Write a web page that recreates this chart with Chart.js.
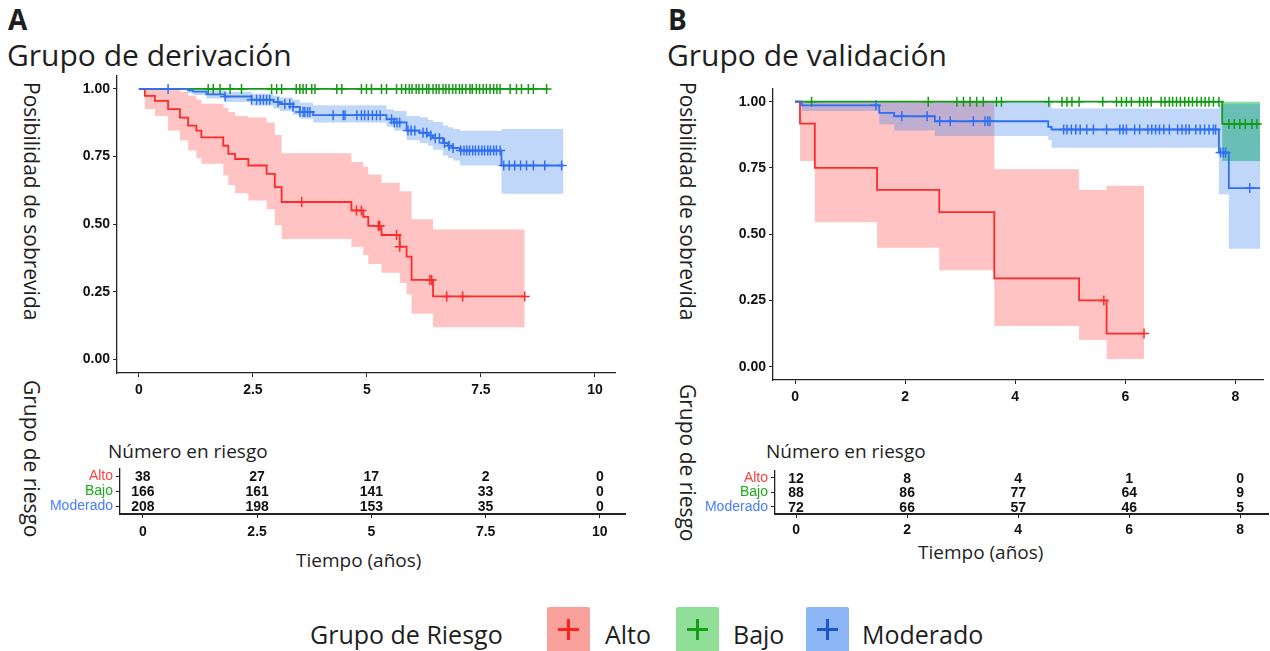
<!DOCTYPE html>
<html>
<head>
<meta charset="utf-8">
<script src="https://cdn.jsdelivr.net/npm/chart.js@4.4.1/dist/chart.umd.min.js"></script>
<style>
  body { margin: 0; width: 1270px; height: 651px; background: #fff; position: relative; overflow: hidden;
         font-family: 'Open Sans', 'Noto Sans', sans-serif; color: #1e1e1e; }
  .abs { position: absolute; white-space: nowrap; line-height: 1; }
  .panel { font-weight: 700; font-size: 28px; }
  .title { font-size: 30px; }
  .vt { position: absolute; writing-mode: vertical-rl; font-size: 21px; line-height: 24px; white-space: nowrap; }
  .sub { font-size: 19px; }
  .xt { font-size: 19px; }
  canvas { position: absolute; }
  .key { position: absolute; top: 607px; width: 43px; height: 46px; border-radius: 2px; }
  .key i, .key b { position: absolute; display: block; }
  .key i { left: 11px; top: 21px; width: 21px; height: 3px; }
  .key b { left: 20px; top: 12px; width: 3px; height: 21px; }
  .legtxt { position: absolute; font-size: 25px; line-height: 1; top: 622px; white-space: nowrap; }
</style>
</head>
<body>
<div class="abs panel" style="left:8px;top:5px">A</div>
<div class="abs title" style="left:7px;top:40px">Grupo de derivación</div>
<div class="vt" style="left:20px;top:82px">Posibilidad de sobrevida</div>
<div class="vt" style="left:20px;top:380px">Grupo de riesgo</div>
<div class="abs sub" style="left:108px;top:442px">Número en riesgo</div>
<div class="abs xt" style="left:296px;top:551px">Tiempo (años)</div>

<div class="abs panel" style="left:668px;top:5px">B</div>
<div class="abs title" style="left:667px;top:40px">Grupo de validación</div>
<div class="vt" style="left:676px;top:82px">Posibilidad de sobrevida</div>
<div class="vt" style="left:676px;top:384px">Grupo de riesgo</div>
<div class="abs sub" style="left:766px;top:442px">Número en riesgo</div>
<div class="abs xt" style="left:918px;top:543px">Tiempo (años)</div>

<canvas id="kmA" width="570" height="341" style="left:60px;top:64px"></canvas>
<canvas id="kmB" width="554" height="335" style="left:716px;top:77px"></canvas>
<canvas id="riskA" width="620" height="82" style="left:20px;top:457px"></canvas>
<canvas id="riskB" width="595" height="78" style="left:675px;top:459px"></canvas>

<div class="legtxt" style="left:310px">Grupo de Riesgo</div>
<div class="key" style="left:547px;background:#f9a29c"><i style="background:#ff2020"></i><b style="background:#ff2020"></b></div>
<div class="legtxt" style="left:605px">Alto</div>
<div class="key" style="left:676px;background:#8fdf98"><i style="background:#10a010"></i><b style="background:#10a010"></b></div>
<div class="legtxt" style="left:733px">Bajo</div>
<div class="key" style="left:806px;background:#8db6f7"><i style="background:#1d55c8"></i><b style="background:#1d55c8"></b></div>
<div class="legtxt" style="left:862px">Moderado</div>

<script>
// ---- data ----
const groups = ['Alto', 'Bajo', 'Moderado'];
const ticksA = [0, 2.5, 5, 7.5, 10];
const ticksB = [0, 2, 4, 6, 8];
const survTicks = [0, 0.25, 0.5, 0.75, 1];

// Grupo de derivación
const altoA_t  = [0, 0.13, 0.35, 0.64, 0.90, 1.08, 1.26, 1.37, 1.85, 1.96, 2.11, 2.40, 2.80, 2.98, 3.13, 4.66, 4.92, 5.03, 5.32, 5.72, 5.87, 5.98, 6.45, 8.46];
const altoA_s  = [1, 0.974, 0.956, 0.925, 0.894, 0.864, 0.846, 0.821, 0.790, 0.760, 0.741, 0.717, 0.686, 0.637, 0.582, 0.551, 0.527, 0.494, 0.460, 0.417, 0.380, 0.294, 0.233, 0.233];
const altoA_hi = [1, 1, 1, 1, 0.99, 0.975, 0.96, 0.945, 0.93, 0.915, 0.90, 0.894, 0.876, 0.83, 0.762, 0.73, 0.711, 0.684, 0.653, 0.622, 0.622, 0.518, 0.48, 0.48];
const altoA_lo = [1, 0.926, 0.90, 0.846, 0.809, 0.772, 0.745, 0.723, 0.681, 0.645, 0.614, 0.588, 0.555, 0.496, 0.445, 0.417, 0.386, 0.353, 0.321, 0.283, 0.241, 0.169, 0.119, 0.119];
const altoA_cens = [3.57, 4.77, 4.88, 5.25, 5.28, 5.65, 5.72, 6.38, 6.42, 6.75, 7.10, 8.46];

const bajoA_t = [0, 8.97];
const bajoA_s = [1, 1];
const bajoA_cens = [1.52, 1.63, 1.78, 2.00, 2.25, 2.91, 3.02, 3.13, 3.45, 3.53, 3.60, 3.67, 3.79, 3.86, 4.34, 4.45,
  4.88, 4.99, 5.10, 5.32, 5.43, 5.65, 5.76, 5.85, 5.93, 5.99, 6.08, 6.14, 6.22, 6.31, 6.36, 6.45, 6.52, 6.58, 6.67,
  6.73, 6.80, 6.88, 6.95, 7.03, 7.09, 7.17, 7.26, 7.31, 7.40, 7.47, 7.55, 7.62, 7.70, 7.78, 7.85, 7.92, 8.14, 8.28,
  8.39, 8.54, 8.65, 8.94];

const modA_t  = [0, 1.08, 1.19, 1.48, 1.89, 2.47, 2.95, 3.09, 3.38, 3.53, 3.82, 5.43, 5.60, 5.87, 6.16, 6.34, 6.45, 6.67, 6.78, 6.89, 7.04, 7.95, 9.31];
const modA_s  = [1, 0.995, 0.990, 0.980, 0.972, 0.960, 0.952, 0.944, 0.934, 0.915, 0.903, 0.888, 0.876, 0.846, 0.838, 0.828, 0.818, 0.800, 0.790, 0.782, 0.772, 0.717, 0.717];
const modA_hi = [1, 1, 1, 0.995, 0.99, 0.982, 0.975, 0.968, 0.96, 0.95, 0.94, 0.925, 0.918, 0.90, 0.895, 0.885, 0.878, 0.865, 0.858, 0.852, 0.845, 0.852, 0.852];
const modA_lo = [1, 0.985, 0.978, 0.965, 0.952, 0.938, 0.928, 0.918, 0.905, 0.89, 0.876, 0.86, 0.845, 0.81, 0.80, 0.79, 0.775, 0.754, 0.745, 0.735, 0.717, 0.613, 0.613];
const modA_cens = [0.64, 1.89, 2.47, 2.58, 2.66, 2.73, 2.80, 2.87, 3.05, 3.20, 3.31, 3.38, 3.53, 3.60, 3.64, 3.70, 3.75,
  4.26, 4.48, 4.52, 4.78, 4.88, 4.95, 5.03, 5.12, 5.21, 5.29, 5.54, 5.60, 5.66, 5.72, 5.90, 5.97, 6.05, 6.23, 6.31,
  6.40, 6.50, 6.59, 6.70, 6.80, 6.89, 7.06, 7.13, 7.19, 7.25, 7.32, 7.38, 7.45, 7.52, 7.58, 7.65, 7.71, 7.78, 7.84,
  7.92, 8.00, 8.12, 8.24, 8.37, 8.50, 8.65, 8.90, 9.27];

const riskA_alto = [38, 27, 17, 2, 0];
const riskA_bajo = [166, 161, 141, 33, 0];
const riskA_mod  = [208, 198, 153, 35, 0];

// Grupo de validación
const altoB_t  = [0, 0.09, 0.36, 1.49, 2.62, 3.62, 5.16, 5.66, 6.34];
const altoB_s  = [1, 0.917, 0.75, 0.667, 0.583, 0.333, 0.25, 0.125, 0.125];
const altoB_hi = [1, 1, 1, 1, 1, 0.745, 0.667, 0.683, 0.683];
const altoB_lo = [1, 0.776, 0.545, 0.449, 0.364, 0.154, 0.101, 0.029, 0.029];
const altoB_cens = [5.61, 6.34];

const bajoB_t  = [0, 7.76, 8.45];
const bajoB_s  = [1, 0.916, 0.916];
const bajoB_hi = [1, 1, 1];
const bajoB_lo = [1, 0.776, 0.776];
const bajoB_cens = [0.30, 2.42, 2.94, 3.06, 3.18, 3.30, 3.42, 3.66, 3.75, 4.61, 4.85, 4.94, 5.03, 5.16, 5.59, 5.84,
  5.93, 6.02, 6.11, 6.26, 6.33, 6.40, 6.47, 6.65, 6.72, 6.80, 6.86, 6.93, 7.00, 7.08, 7.15, 7.22, 7.30, 7.38, 7.45,
  7.52, 7.60, 7.70, 7.88, 7.98, 8.08, 8.18, 8.30, 8.39];

const modB_t  = [0, 0.12, 1.53, 1.80, 2.54, 4.60, 4.66, 7.70, 7.88, 8.45];
const modB_s  = [1, 0.986, 0.958, 0.945, 0.926, 0.905, 0.895, 0.808, 0.674, 0.674];
const modB_hi = [1, 1, 1, 1, 1, 1, 0.974, 0.99, 0.99, 0.99];
const modB_lo = [1, 0.965, 0.914, 0.891, 0.870, 0.855, 0.826, 0.651, 0.445, 0.445];
const modB_cens = [1.47, 1.94, 2.40, 2.63, 2.82, 3.24, 3.45, 3.50, 3.54, 4.88, 4.94, 5.02, 5.10, 5.18, 5.30, 5.42,
  5.66, 5.90, 5.96, 6.02, 6.17, 6.26, 6.41, 6.48, 6.55, 6.62, 6.70, 6.80, 6.95, 7.03, 7.10, 7.16, 7.28, 7.36, 7.44,
  7.52, 7.60, 7.64, 7.73, 7.78, 7.82, 8.26];

const riskB_alto = [12, 8, 4, 1, 0];
const riskB_bajo = [88, 86, 77, 64, 9];
const riskB_mod  = [72, 66, 57, 46, 5];

// ---- styling ----
const RED = '#ff2a2a', GREEN = '#159a15', BLUE = '#2f6ff2';
const groupColors = ['#ff4040', '#1aab1a', '#4a7cff'];
const BAND_RED = 'rgba(255,40,40,0.28)', BAND_GREEN = 'rgba(0,185,55,0.5)', BAND_BLUE = 'rgba(60,130,240,0.32)';
const NARROW = "'Liberation Sans Narrow', 'Liberation Sans', Arial, sans-serif";
const tickFont = {family: NARROW, size: 14, weight: 'bold'};
const AXIS = '#222';

function pts(t, s) { return t.map((x, i) => ({x: x, y: s[i]})); }
function survAt(t, s, x) {
  let v = s[0];
  t.forEach((ti, i) => { if (ti <= x) v = s[i]; });
  return v;
}
function bandSets(t, hi, lo, color, order) {
  return [
    {data: pts(t, hi), stepped: true, borderWidth: 0, borderColor: 'transparent', pointRadius: 0, fill: false, order: order},
    {data: pts(t, lo), stepped: true, borderWidth: 0, borderColor: 'transparent', pointRadius: 0, fill: '-1', backgroundColor: color, order: order}
  ];
}
function curveSets(t, s, cens, color, order) {
  return [
    {data: pts(t, s), stepped: true, borderColor: color, borderWidth: 1.8, pointRadius: 0, fill: false, order: order},
    {type: 'scatter', data: cens.map(x => ({x: x, y: survAt(t, s, x)})), pointStyle: 'cross',
     pointRadius: 5, borderColor: color, borderWidth: 1.5, order: order}
  ];
}

function axisCommon() {
  return {
    grid: {display: true, drawOnChartArea: false, drawTicks: true, tickLength: 4, color: AXIS, lineWidth: 1},
    border: {display: true, color: AXIS, width: 1.3}
  };
}

function kmChart(id, xmin, xmax, xt, padRight, datasets) {
  new Chart(document.getElementById(id), {
    type: 'line',
    data: {datasets: datasets},
    options: {
      responsive: false, animation: false, events: [],
      layout: {padding: {top: 10, right: padRight, left: 0, bottom: 0}},
      plugins: {legend: {display: false}, tooltip: {enabled: false}, filler: {drawTime: 'beforeDatasetsDraw'}},
      scales: {
        x: Object.assign(axisCommon(), {
          type: 'linear', min: xmin, max: xmax,
          afterBuildTicks: s => { s.ticks = xt.map(v => ({value: v})); },
          afterFit: s => { s.height = 32; },
          ticks: {color: '#111', font: tickFont, padding: 5, maxRotation: 0, autoSkip: false, callback: v => String(v)}
        }),
        y: Object.assign(axisCommon(), {
          type: 'linear', min: -0.05, max: 1.05,
          afterBuildTicks: s => { s.ticks = survTicks.map(v => ({value: v})); },
          afterFit: s => { s.width = 57; },
          ticks: {color: '#111', font: tickFont, padding: 3, callback: v => v.toFixed(2)}
        })
      }
    }
  });
}

const riskText = {
  id: 'riskText',
  afterDatasetsDraw(chart, args, opts) {
    const {ctx, scales: {x, y}} = chart;
    ctx.save();
    ctx.font = 'bold 14px ' + NARROW;
    ctx.fillStyle = '#111';
    ctx.textAlign = 'center';
    ctx.textBaseline = 'middle';
    opts.rows.forEach((row, r) => {
      row.forEach((n, i) => ctx.fillText(String(n), x.getPixelForValue(opts.times[i]), y.getPixelForValue(r) + 1));
    });
    ctx.restore();
  }
};

function riskChart(id, xmin, xmax, xt, padRight, xh, rows) {
  new Chart(document.getElementById(id), {
    type: 'scatter',
    data: {datasets: []},
    plugins: [riskText],
    options: {
      responsive: false, animation: false, events: [],
      layout: {padding: {top: 10, right: padRight, left: 0, bottom: 0}},
      plugins: {legend: {display: false}, tooltip: {enabled: false}, riskText: {rows: rows, times: xt}},
      scales: {
        x: Object.assign(axisCommon(), {
          type: 'linear', min: xmin, max: xmax,
          afterBuildTicks: s => { s.ticks = xt.map(v => ({value: v})); },
          afterFit: s => { s.height = xh; },
          border: {display: true, color: AXIS, width: 2},
          ticks: {color: '#111', font: tickFont, padding: xh - 19, maxRotation: 0, autoSkip: false, callback: v => String(v)}
        }),
        y: Object.assign(axisCommon(), {
          type: 'category', labels: groups, offset: true,
          afterFit: s => { s.width = 100; },
          ticks: {color: c => groupColors[c.index], padding: 3, autoSkip: false,
                  font: {family: NARROW, size: 14}}
        })
      }
    }
  });
}

kmChart('kmA', -0.48, 10.44, ticksA, 15, [].concat(
  curveSets(modA_t, modA_s, modA_cens, BLUE, 1),
  curveSets(bajoA_t, bajoA_s, bajoA_cens, GREEN, 2),
  curveSets(altoA_t, altoA_s, altoA_cens, RED, 3),
  bandSets(modA_t, modA_hi, modA_lo, BAND_BLUE, 10),
  bandSets(altoA_t, altoA_hi, altoA_lo, BAND_RED, 30)
));

kmChart('kmB', -0.40, 8.51, ticksB, 2, [].concat(
  curveSets(modB_t, modB_s, modB_cens, BLUE, 1),
  curveSets(bajoB_t, bajoB_s, bajoB_cens, GREEN, 2),
  curveSets(altoB_t, altoB_s, altoB_cens, RED, 3),
  bandSets(modB_t, modB_hi, modB_lo, BAND_BLUE, 10),
  bandSets(bajoB_t, bajoB_hi, bajoB_lo, BAND_GREEN, 20),
  bandSets(altoB_t, altoB_hi, altoB_lo, BAND_RED, 30)
));

riskChart('riskA', -0.5, 10.55, ticksA, 15, 25, [riskA_alto, riskA_bajo, riskA_mod]);
riskChart('riskB', -0.38, 8.5, ticksB, 2, 23, [riskB_alto, riskB_bajo, riskB_mod]);
</script>
</body>
</html>
